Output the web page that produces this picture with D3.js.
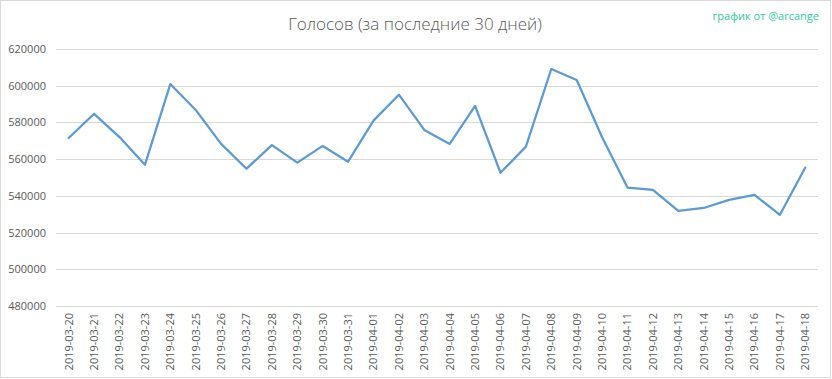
<!DOCTYPE html>
<html><head><meta charset="utf-8">
<script src="https://cdn.jsdelivr.net/npm/d3@7"></script>
<style>body{margin:0;background:#fff;} svg{display:block;}</style>
</head><body>
<script>
const dates = ["2019-03-20","2019-03-21","2019-03-22","2019-03-23","2019-03-24","2019-03-25","2019-03-26","2019-03-27","2019-03-28","2019-03-29","2019-03-30","2019-03-31","2019-04-01","2019-04-02","2019-04-03","2019-04-04","2019-04-05","2019-04-06","2019-04-07","2019-04-08","2019-04-09","2019-04-10","2019-04-11","2019-04-12","2019-04-13","2019-04-14","2019-04-15","2019-04-16","2019-04-17","2019-04-18"];
const votes = [571500,584700,572000,556900,600900,586800,568300,554800,567600,558100,567200,558600,581000,595100,575900,568300,589000,552600,566800,609100,603100,571900,544500,543200,531800,533400,537800,540500,529700,555400];
const yTicks = [480000,500000,520000,540000,560000,580000,600000,620000];
const title = "Голосов (за последние 30 дней)";
const credit = "график от @arcange";

const W = 832, H = 379;
const svg = d3.select("body").append("svg").attr("width", W).attr("height", H);
svg.append("rect").attr("x",0.5).attr("y",0.5).attr("width",W-2).attr("height",H-2)
  .attr("fill","#fff").attr("stroke","#d9d9d9");

const x = d3.scaleBand().domain(dates).range([56, 818]);
const y = d3.scaleLinear().domain([480000, 620000]).range([306, 49]);

const font = "'Open Sans', Lato, sans-serif";

// gridlines
svg.append("g").selectAll("line").data(yTicks).join("line")
  .attr("x1", 56).attr("x2", 818)
  .attr("y1", d => Math.round(y(d)) + 0.5).attr("y2", d => Math.round(y(d)) + 0.5)
  .attr("stroke", "#d9d9d9").attr("stroke-width", 1);

// y axis labels
const yAxis = d3.axisLeft(y).tickValues(yTicks).tickSize(0).tickPadding(0).tickFormat(d3.format("d"));
const gy = svg.append("g").attr("transform", "translate(46,0)").call(yAxis);
gy.select(".domain").remove();
gy.selectAll("text").attr("fill", "#595959").style("font-family", font).style("font-size", "11px");

// x axis labels
const xAxis = d3.axisBottom(x).tickSize(0).tickPadding(0);
const gx = svg.append("g").attr("transform", "translate(0,306)").call(xAxis);
gx.select(".domain").remove();
gx.selectAll("text")
  .attr("fill", "#595959").style("font-family", font).style("font-size", "11px")
  .attr("text-anchor", "end").attr("dy", "0.35em")
  .attr("transform", "translate(0,7) rotate(-90)").attr("x", 0).attr("y", 0);

// line
const line = d3.line().x((d, i) => x(dates[i]) + x.bandwidth() / 2).y(d => y(d));
svg.append("path").datum(votes).attr("d", line)
  .attr("fill", "none").attr("stroke", "#5b9bd5").attr("stroke-width", 2.25)
  .attr("stroke-linejoin", "round").attr("stroke-linecap", "round");

// title
svg.append("text").attr("x", 415).attr("y", 30).attr("text-anchor", "middle")
  .attr("fill", "#595959").style("font-family", font).style("font-size", "17px").style("font-weight", 300)
  .text(title);

svg.append("text").attr("x", 819).attr("y", 20).attr("text-anchor", "end")
  .attr("fill", "#2ec9a0").style("font-family", font).style("font-size", "11px")
  .text(credit);
</script>
</body></html>
